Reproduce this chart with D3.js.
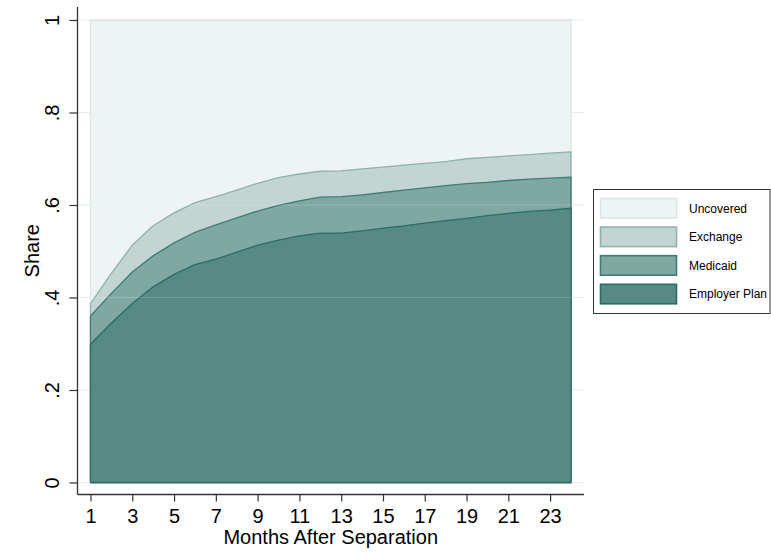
<!DOCTYPE html>
<html><head><meta charset="utf-8">
<script src="https://cdn.jsdelivr.net/npm/d3@7/dist/d3.min.js"></script>
<style>
body{margin:0;background:#fff}
text{font-family:Arial,"Liberation Sans",Helvetica,sans-serif;fill:#000}
</style>
</head><body>
<svg id="c" width="771" height="553"></svg>
<script>
// ---- data ----
const months = [1,2,3,4,5,6,7,8,9,10,11,12,13,14,15,16,17,18,19,20,21,22,23,24];
const employer = [0.299,0.345,0.387,0.423,0.450,0.471,0.483,0.498,0.513,0.524,0.533,0.539,0.539,0.544,0.550,0.555,0.561,0.566,0.571,0.577,0.582,0.586,0.589,0.593];
const medicaid = [0.061,0.064,0.068,0.067,0.068,0.070,0.074,0.074,0.074,0.075,0.076,0.078,0.079,0.078,0.077,0.077,0.076,0.076,0.075,0.072,0.071,0.070,0.069,0.067];
const exchange = [0.027,0.043,0.058,0.065,0.065,0.064,0.061,0.060,0.060,0.060,0.058,0.056,0.056,0.056,0.055,0.054,0.053,0.052,0.054,0.054,0.053,0.053,0.054,0.055];
const uncovered = [0.613,0.548,0.487,0.445,0.417,0.395,0.382,0.368,0.353,0.341,0.333,0.327,0.326,0.322,0.318,0.314,0.310,0.306,0.300,0.297,0.294,0.291,0.288,0.285];
const seriesKeys = ["Employer Plan","Medicaid","Exchange","Uncovered"];
const xTicks = [1,3,5,7,9,11,13,15,17,19,21,23];
const yTicks = [0,0.2,0.4,0.6,0.8,1];
const yTickLabels = ["0",".2",".4",".6",".8","1"];
const xTitle = "Months After Separation";
const yTitle = "Share";

// ---- styles ----
const fills = {"Employer Plan":"#578a84","Medicaid":"#80a8a3","Exchange":"#c3d5d3","Uncovered":"#eef4f4"};
const strokes = {"Employer Plan":"#2d6c62","Medicaid":"#3f7c72","Exchange":"#8fb1ac","Uncovered":"#dae6e4"};

const rows = months.map((m,i)=>({month:m,"Employer Plan":employer[i],"Medicaid":medicaid[i],"Exchange":exchange[i],"Uncovered":uncovered[i]}));

const svg = d3.select("#c");
const axX = 77.5, axY = 494.5, regTop = 7, regRight = 584;
const x = d3.scaleLinear().domain([1,24]).range([90.5,571]);
const y = d3.scaleLinear().domain([0,1]).range([482.5,20]);

// gridlines (beneath)
svg.append("g").selectAll("line").data(yTicks).join("line")
  .attr("x1",axX).attr("x2",regRight).attr("y1",d=>y(d)).attr("y2",d=>y(d))
  .attr("stroke","#e3ecea").attr("stroke-width",1.2);

// stacked areas
const stacked = d3.stack().keys(seriesKeys)(rows);
const area = d3.area().x(d=>x(d.data.month)).y0(y(0)).y1(d=>y(d[1]));
svg.append("g").selectAll("path").data(stacked.slice().reverse()).join("path")
  .attr("d",area)
  .attr("fill",d=>fills[d.key])
  .attr("stroke",d=>strokes[d.key])
  .attr("stroke-width",1.3)
  .attr("stroke-linejoin","round");

// faint gridlines on top
svg.append("g").selectAll("line").data(yTicks.slice(2,5)).join("line")
  .attr("x1",axX).attr("x2",regRight).attr("y1",d=>y(d)).attr("y2",d=>y(d))
  .attr("stroke","#eef4f3").attr("stroke-width",1.2).attr("opacity",0.18);

// axes
const yAxis = d3.axisLeft(y).tickValues(yTicks).tickFormat((d,i)=>yTickLabels[i]).tickSize(8).tickSizeOuter(0);
const gy = svg.append("g").attr("transform",`translate(${axX},0)`).call(yAxis);
gy.select(".domain").remove();
gy.selectAll(".tick line").attr("stroke","#333").attr("stroke-width",1.2);
gy.selectAll(".tick text")
  .attr("transform","rotate(-90)").attr("x",0).attr("y",-18.5).attr("dy",0)
  .attr("text-anchor","middle").style("font-size","20px").attr("fill","#000");

const xAxis = d3.axisBottom(x).tickValues(xTicks).tickFormat(d3.format("d")).tickSize(7).tickSizeOuter(0);
const gx = svg.append("g").attr("transform",`translate(0,${axY})`).call(xAxis);
gx.select(".domain").remove();
gx.selectAll(".tick line").attr("stroke","#333").attr("stroke-width",1.2);
gx.selectAll(".tick text").attr("y",28.5).attr("dy",0).style("font-size","20px").attr("fill","#000");

svg.append("line").attr("x1",axX).attr("x2",axX).attr("y1",regTop).attr("y2",axY)
  .attr("stroke","#333").attr("stroke-width",1.3);
svg.append("line").attr("x1",axX).attr("x2",regRight).attr("y1",axY).attr("y2",axY)
  .attr("stroke","#333").attr("stroke-width",1.3);

// titles
svg.append("text").attr("x",(axX+regRight)/2).attr("y",544).attr("text-anchor","middle")
  .style("font-size","20px").text(xTitle);
svg.append("text").attr("transform",`translate(39,${(regTop+axY)/2}) rotate(-90)`)
  .attr("text-anchor","middle").style("font-size","20px").text(yTitle);

// legend
const legendOrder = ["Uncovered","Exchange","Medicaid","Employer Plan"];
const lg = svg.append("g");
lg.append("rect").attr("x",593.5).attr("y",189.5).attr("width",176.5).attr("height",124)
  .attr("fill","#fff").attr("stroke","#333").attr("stroke-width",1);
const items = lg.selectAll("g.it").data(legendOrder).join("g").attr("class","it")
  .attr("transform",(d,i)=>`translate(0,${198.5+i*28.6})`);
items.append("rect").attr("x",600.5).attr("y",0).attr("width",76).attr("height",19.5)
  .attr("fill",d=>fills[d]).attr("stroke",d=>strokes[d]).attr("stroke-width",1.6);
items.append("text").attr("x",689).attr("y",14).style("font-size","12px").text(d=>d);
</script>
</body></html>
